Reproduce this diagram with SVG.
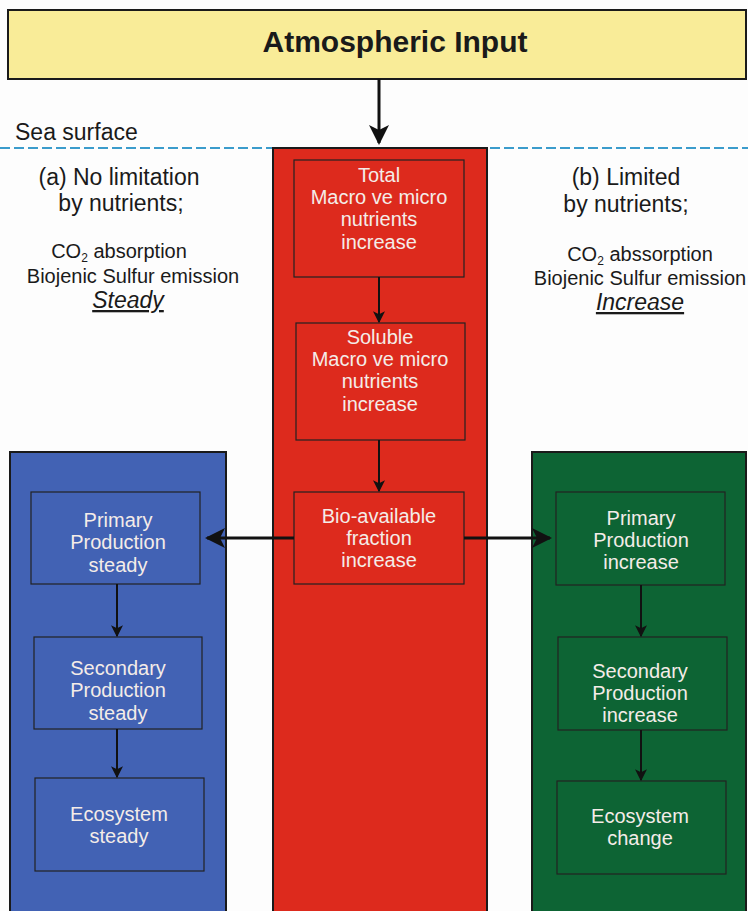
<svg xmlns="http://www.w3.org/2000/svg" width="748" height="911" viewBox="0 0 748 911">
<style>
text{font-family:"Liberation Sans",Arial,sans-serif;text-anchor:middle}
.t{font-size:20px;fill:#f4ece8}
.k{fill:#1a1a1a}
.inner{stroke:#222;stroke-width:1.2}
.col{stroke:#1a1a1a;stroke-width:2}
.ar{stroke:#111;stroke-width:2;fill:none}
.arb{stroke:#111;stroke-width:3;fill:none}
</style>
<defs>
<marker id="ahs" viewBox="0 0 10 10" refX="9" refY="5" markerWidth="12" markerHeight="12" orient="auto" markerUnits="userSpaceOnUse"><path d="M0,0 L10,5 L0,10 L2.5,5 Z" fill="#111"/></marker>
<marker id="ahb" viewBox="0 0 10 10" refX="9" refY="5" markerWidth="22" markerHeight="20" orient="auto" markerUnits="userSpaceOnUse"><path d="M0,0 L10,5 L0,10 L2.5,5 Z" fill="#111"/></marker>
</defs>
<rect width="748" height="911" fill="#fdfdfd"/>
<g id="atmospheric-input">
<rect x="8" y="10" width="738" height="69" fill="#f9ec98" stroke="#1a1a1a" stroke-width="2"/>
<text x="395" y="52" font-size="30" font-weight="bold" class="k">Atmospheric Input</text>
</g>
<g id="sea-surface">
<text x="15" y="140" font-size="23" class="k" style="text-anchor:start">Sea surface</text>
<line x1="0" y1="148" x2="748" y2="148" stroke="#3b9ccc" stroke-width="2" stroke-dasharray="10,4"/>
</g>
<g id="red-column">
<rect x="273" y="148" width="214" height="770" fill="#dd2a1d" class="col"/>
</g>
<g id="blue-column">
<rect x="10" y="452" width="216" height="466" fill="#4262b4" class="col"/>
</g>
<g id="green-column">
<rect x="532" y="452" width="214" height="466" fill="#0d6434" class="col"/>
</g>
<g id="label-a">
<text x="119" y="185" font-size="23" class="k">(a) No limitation</text>
<text x="121" y="211" font-size="23" class="k">by nutrients;</text>
<text x="119" y="258" font-size="20" class="k">CO<tspan font-size="12" dy="4">2</tspan><tspan dy="-4">  absorption</tspan></text>
<text x="133" y="283" font-size="20" class="k">Biojenic Sulfur emission</text>
<text x="128" y="308" font-size="23" font-style="italic" text-decoration="underline" class="k">Steady</text>
</g>
<g id="label-b">
<text x="626" y="185" font-size="23" class="k">(b) Limited</text>
<text x="626" y="212" font-size="23" class="k">by nutrients;</text>
<text x="640" y="261" font-size="20" class="k">CO<tspan font-size="12" dy="4">2</tspan><tspan dy="-4">  abssorption</tspan></text>
<text x="640" y="285" font-size="20" class="k">Biojenic Sulfur emission</text>
<text x="640" y="310" font-size="23" font-style="italic" text-decoration="underline" class="k">Increase</text>
</g>
<g id="total-nutrients">
<rect x="294" y="160" width="170" height="117" fill="#dd2a1d" class="inner"/>
<text class="t" x="379" y="182">Total</text>
<text class="t" x="379" y="204">Macro ve micro</text>
<text class="t" x="379" y="226">nutrients</text>
<text class="t" x="379" y="249">increase</text>
</g>
<g id="soluble-nutrients">
<rect x="296" y="323" width="169" height="117" fill="#dd2a1d" class="inner"/>
<text class="t" x="380" y="344">Soluble</text>
<text class="t" x="380" y="366">Macro ve micro</text>
<text class="t" x="380" y="388">nutrients</text>
<text class="t" x="380" y="411">increase</text>
</g>
<g id="bioavailable">
<rect x="294" y="492" width="170" height="92" fill="#dd2a1d" class="inner"/>
<text class="t" x="379" y="523">Bio-available</text>
<text class="t" x="379" y="545">fraction</text>
<text class="t" x="379" y="567">increase</text>
</g>
<g id="primary-steady">
<rect x="31" y="492" width="169" height="92" fill="#4262b4" class="inner"/>
<text class="t" x="118" y="527">Primary</text>
<text class="t" x="118" y="549">Production</text>
<text class="t" x="118" y="572">steady</text>
</g>
<g id="secondary-steady">
<rect x="34" y="637" width="168" height="92" fill="#4262b4" class="inner"/>
<text class="t" x="118" y="675">Secondary</text>
<text class="t" x="118" y="697">Production</text>
<text class="t" x="118" y="720">steady</text>
</g>
<g id="ecosystem-steady">
<rect x="35" y="778" width="169" height="93" fill="#4262b4" class="inner"/>
<text class="t" x="119" y="821">Ecosystem</text>
<text class="t" x="119" y="843">steady</text>
</g>
<g id="primary-increase">
<rect x="556" y="492" width="169" height="93" fill="#0d6434" class="inner"/>
<text class="t" x="641" y="525">Primary</text>
<text class="t" x="641" y="547">Production</text>
<text class="t" x="641" y="569">increase</text>
</g>
<g id="secondary-increase">
<rect x="558" y="637" width="169" height="93" fill="#0d6434" class="inner"/>
<text class="t" x="640" y="678">Secondary</text>
<text class="t" x="640" y="700">Production</text>
<text class="t" x="640" y="722">increase</text>
</g>
<g id="ecosystem-change">
<rect x="557" y="781" width="169" height="93" fill="#0d6434" class="inner"/>
<text class="t" x="640" y="823">Ecosystem</text>
<text class="t" x="640" y="845">change</text>
</g>
<g id="connectors">
<line class="arb" x1="379" y1="79" x2="379" y2="143" marker-end="url(#ahb)"/>
<line class="ar" x1="379" y1="277" x2="379" y2="322" marker-end="url(#ahs)"/>
<line class="ar" x1="379" y1="440" x2="379" y2="491" marker-end="url(#ahs)"/>
<line class="arb" x1="294" y1="538" x2="207" y2="538" marker-end="url(#ahb)"/>
<line class="arb" x1="464" y1="538" x2="550" y2="538" marker-end="url(#ahb)"/>
<line class="ar" x1="117" y1="584" x2="117" y2="636" marker-end="url(#ahs)"/>
<line class="ar" x1="117" y1="729" x2="117" y2="777" marker-end="url(#ahs)"/>
<line class="ar" x1="641" y1="585" x2="641" y2="636" marker-end="url(#ahs)"/>
<line class="ar" x1="641" y1="730" x2="641" y2="780" marker-end="url(#ahs)"/>
</g>
</svg>
